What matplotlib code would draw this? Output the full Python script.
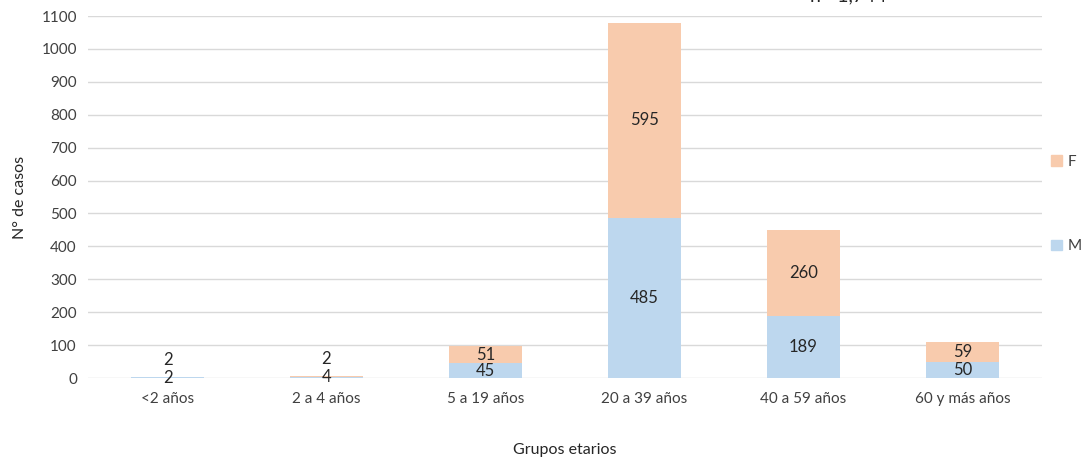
import matplotlib
matplotlib.use("Agg")
import matplotlib.pyplot as plt
from matplotlib.patches import Patch

plt.rcParams['font.family'] = ['Lato', 'DejaVu Sans']

grupos = ['<2 años', '2 a 4 años', '5 a 19 años', '20 a 39 años', '40 a 59 años', '60 y más años']
masc = [2, 4, 45, 485, 189, 50]
fem = [2, 2, 51, 595, 260, 59]
total_txt = 'n= 1,744'

col_m = '#BDD7EE'
col_f = '#F8CBAD'
txt_col = '#404040'

fig = plt.figure(figsize=(10.87, 4.58), dpi=100)
ax = fig.add_axes([88 / 1087, 80 / 458, 954 / 1087, 362 / 458])

x = list(range(len(grupos)))
ax.bar(x, masc, width=0.46, color=col_m, zorder=3)
ax.bar(x, fem, width=0.46, bottom=masc, color=col_f, zorder=3)

for i in x:
    m, f = masc[i], fem[i]
    if m + f < 30:
        # tiny bars: labels stacked above one another
        ax.annotate(str(m), (i, m / 2), ha='center', va='center', fontsize=12, color='#262626', zorder=4)
        ax.annotate(str(f), (i, m / 2), xytext=(0, 13), textcoords='offset points',
                    ha='center', va='center', fontsize=12, color='#262626', zorder=4)
    else:
        ax.text(i, m / 2, str(m), ha='center', va='center', fontsize=12, color='#262626', zorder=4)
        ax.text(i, m + f / 2, str(f), ha='center', va='center', fontsize=12, color='#262626', zorder=4)

ax.set_xlim(-0.5, len(grupos) - 0.5)
ax.set_ylim(0, 1100)
ax.set_yticks(range(0, 1101, 100))
ax.set_xticks(x)
ax.set_xticklabels(grupos)
ax.tick_params(axis='both', length=0, labelsize=11, colors=txt_col, pad=8)
ax.tick_params(axis='x', pad=10)
ax.grid(axis='y', color='#D9D9D9', linewidth=1, zorder=0)
for s in ax.spines.values():
    s.set_visible(False)

ax.set_ylabel('N° de casos', fontsize=11.5, color='#262626', labelpad=10)
ax.set_xlabel('Grupos etarios', fontsize=11.5, color='#262626', labelpad=27)

handles = [Patch(color=col_f, label='F'), Patch(color=col_m, label='M')]
ax.legend(handles=handles, loc='center left', bbox_to_anchor=(0.995, 0.48), frameon=False,
          handlelength=0.7, handleheight=0.7, handletextpad=0.4, labelspacing=4.6,
          fontsize=11, labelcolor=txt_col)

# total label, partly cut off at the top as in the source image
fig.text(848 / 1087, 1 - 4 / 458, total_txt, ha='center', va='bottom', fontsize=14, color='#262626')

fig.savefig('out.png', dpi=100)
